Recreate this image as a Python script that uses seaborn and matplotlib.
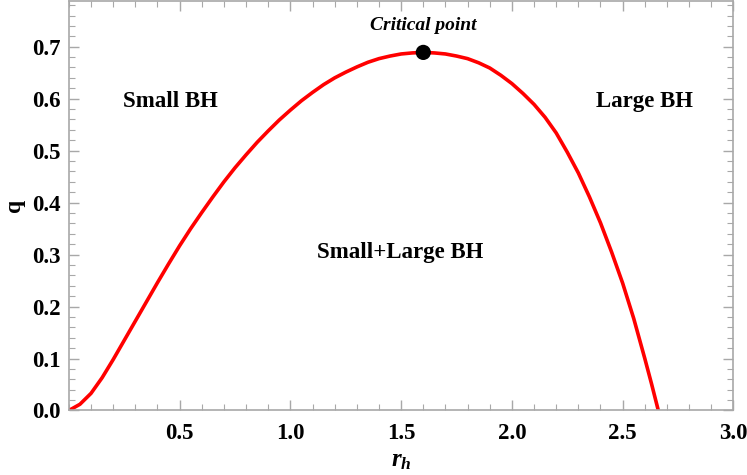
"""Diagrama de fases q vs r_h con el punto critico."""
import matplotlib

matplotlib.use("Agg")
import matplotlib.pyplot as plt
import pandas as pd
import seaborn as sns
from matplotlib.ticker import MultipleLocator

# valores
r_h = [0.00, 0.05, 0.10, 0.15, 0.20, 0.25, 0.30, 0.35, 0.40, 0.45,
       0.50, 0.55, 0.60, 0.65, 0.70, 0.75, 0.80, 0.85, 0.90, 0.95,
       1.00, 1.05, 1.10, 1.15, 1.20, 1.25, 1.30, 1.35, 1.40, 1.45,
       1.50, 1.55, 1.60, 1.65, 1.70, 1.75, 1.80, 1.85, 1.90, 1.95,
       2.00, 2.05, 2.10, 2.15, 2.20, 2.25, 2.30, 2.35, 2.40, 2.45,
       2.50, 2.55, 2.60, 2.63, 2.661]
q = [0.000, 0.012, 0.033, 0.063, 0.098, 0.135, 0.172, 0.209, 0.246, 0.282,
     0.317, 0.350, 0.381, 0.411, 0.440, 0.467, 0.492, 0.516, 0.538, 0.559,
     0.578, 0.596, 0.612, 0.627, 0.640, 0.651, 0.661, 0.670, 0.677, 0.682,
     0.686, 0.688, 0.689, 0.688, 0.686, 0.682, 0.677, 0.669, 0.659, 0.645,
     0.629, 0.610, 0.589, 0.564, 0.534, 0.497, 0.457, 0.411, 0.361, 0.305,
     0.245, 0.177, 0.100, 0.052, 0.000]
critical_r = [1.60]
critical_q = [0.689]
region_labels = ["Small BH", "Large BH", "Small+Large BH"]
region_r = [0.457, 2.60, 1.496]
region_q = [0.595, 0.595, 0.304]

sns.set_theme(style="ticks")
plt.rcParams["font.family"] = ["Liberation Serif", "DejaVu Serif"]
plt.rcParams["mathtext.fontset"] = "custom"
plt.rcParams["mathtext.it"] = "Liberation Serif:italic:bold"
plt.rcParams["mathtext.rm"] = "Liberation Serif:bold"
plt.rcParams["text.color"] = "black"
plt.rcParams["axes.labelcolor"] = "black"
plt.rcParams["xtick.labelcolor"] = "black"
plt.rcParams["ytick.labelcolor"] = "black"

curve = pd.DataFrame({"r_h": r_h, "q": q})
crit = pd.DataFrame({"r_h": critical_r, "q": critical_q})

fig, ax = plt.subplots(figsize=(7.47, 4.75), dpi=100)
fig.subplots_adjust(left=0.0922, right=0.9818, bottom=0.1358, top=0.998)

sns.lineplot(data=curve, x="r_h", y="q", color="red", linewidth=2.6, ax=ax,
             solid_joinstyle="round", solid_capstyle="round")
sns.scatterplot(data=crit, x="r_h", y="q", color="black", s=120, zorder=5,
                edgecolor="none", ax=ax)

ax.text(critical_r[0], critical_q[0] + 0.052, "Critical point", ha="center",
        va="center", fontsize=14, fontweight="bold", fontstyle="italic")
for lab, x, y in zip(region_labels, region_r, region_q):
    ax.text(x, y, lab, ha="center", va="center", fontsize=16.5, fontweight="bold")

ax.set_xlim(0, 3.0)
ax.set_ylim(0, 0.788)
ax.xaxis.set_minor_locator(MultipleLocator(0.1))
ax.yaxis.set_minor_locator(MultipleLocator(0.02))
ax.set_xticks([0.5, 1.0, 1.5, 2.0, 2.5, 3.0])
ax.set_xticklabels(["0.5", "1.0", "1.5", "2.0", "2.5", "3.0"])
yt = [0.0, 0.1, 0.2, 0.3, 0.4, 0.5, 0.6, 0.7]
ax.set_yticks(yt)
ax.set_yticklabels([f"{v:.1f}" for v in yt])

gray = "#a8a8a8"
for sp in ax.spines.values():
    sp.set_color(gray)
    sp.set_linewidth(1.2)
ax.tick_params(which="both", direction="in", top=True, right=True, color=gray)
ax.tick_params(which="major", length=7, width=1.0, labelsize=16.5, pad=6)
ax.tick_params(axis="x", which="major", pad=9)
ax.tick_params(which="minor", length=4, width=0.8)
for t in ax.get_xticklabels() + ax.get_yticklabels():
    t.set_fontweight("bold")

ax.set_xlabel(r"$r_h$", fontsize=18, labelpad=4)
ax.set_ylabel("q", fontsize=17, fontweight="bold", labelpad=5)

fig.savefig("out.png", dpi=100)
